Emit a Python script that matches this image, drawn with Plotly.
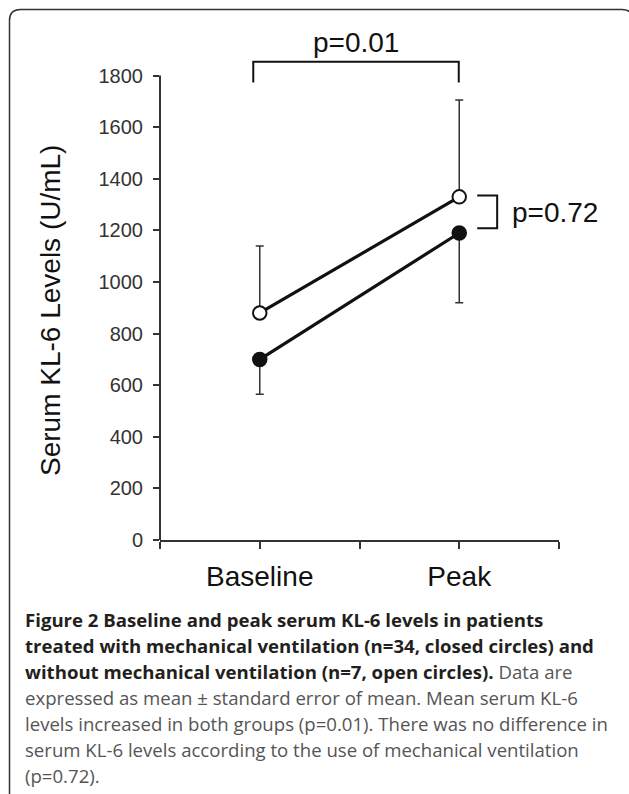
import plotly.graph_objects as go

# ---------------- data ----------------
categories = ["Baseline", "Peak"]
mv_mean = [700, 1190]          # with mechanical ventilation (closed circles)
mv_sem_minus = [135, 270]
nomv_mean = [880, 1330]        # without mechanical ventilation (open circles)
nomv_sem_plus = [260, 375]
y_ticks = [0, 200, 400, 600, 800, 1000, 1200, 1400, 1600, 1800]
p_time = "p=0.01"
p_group = "p=0.72"

caption_lines = [
    "<b>Figure 2 Baseline and peak serum KL-6 levels in patients</b>",
    "<b>treated with mechanical ventilation (n=34, closed circles) and</b>",
    "<b>without mechanical ventilation (n=7, open circles).</b> <span style='color:#555555'>Data are</span>",
    "<span style='color:#555555'>expressed as mean ± standard error of mean. Mean serum KL-6</span>",
    "<span style='color:#555555'>levels increased in both groups (p=0.01). There was no difference in</span>",
    "<span style='color:#555555'>serum KL-6 levels according to the use of mechanical ventilation</span>",
    "<span style='color:#555555'>(p=0.72).</span>",
]

# ---------------- layout geometry ----------------
W, H = 629, 794
L, R, T, B = 160, 70, 24, 254
PW, PH = W - L - R, H - T - B


def px(xp):
    return (xp - L) / PW


def py(yp):
    return (H - B - yp) / PH


x_pos = [1 + 2 * i for i in range(len(categories))]
tickvals = list(range(0, 2 * len(categories) + 1))
ticktext = ["" for _ in tickvals]
for i, c in enumerate(categories):
    ticktext[x_pos[i]] = c

CHART_FONT = "Liberation Sans, Arial, sans-serif"

fig = go.Figure()

fig.add_trace(go.Scatter(
    x=x_pos, y=mv_mean, mode="lines+markers",
    line=dict(color="#111111", width=3.2),
    marker=dict(symbol="circle", size=14, color="#111111",
                line=dict(color="#111111", width=1.5)),
    error_y=dict(type="data", symmetric=False, array=[0] * len(mv_mean),
                 arrayminus=mv_sem_minus, color="#333333", thickness=1.5, width=4),
    showlegend=False, hoverinfo="skip",
))
fig.add_trace(go.Scatter(
    x=x_pos, y=nomv_mean, mode="lines+markers",
    line=dict(color="#111111", width=3.2),
    marker=dict(symbol="circle", size=13.5, color="white",
                line=dict(color="#111111", width=2)),
    error_y=dict(type="data", symmetric=False, array=nomv_sem_plus,
                 arrayminus=[0] * len(nomv_mean), color="#333333", thickness=1.5, width=4),
    showlegend=False, hoverinfo="skip",
))

shapes = []
# y axis line (only up to 1800)
shapes.append(dict(type="line", xref="paper", yref="y", x0=0, x1=0,
                   y0=y_ticks[0], y1=y_ticks[-1], line=dict(color="#333333", width=2)))
# bracket for p=0.01 (between time points)
bx0, bx1 = x_pos[0] - 0.065, x_pos[1] - 0.005
by_top, by_leg = 1854, 1773
shapes.append(dict(type="path", xref="x", yref="y",
                   path=f"M {bx0},{by_leg} L {bx0},{by_top} L {bx1},{by_top} L {bx1},{by_leg}",
                   line=dict(color="#111111", width=2)))
# bracket for p=0.72 (between groups at peak)
gx0, gx1 = x_pos[1] + 0.18, x_pos[1] + 0.38
shapes.append(dict(type="path", xref="x", yref="y",
                   path=f"M {gx0},{nomv_mean[1] + 5} L {gx1},{nomv_mean[1] + 5} "
                        f"L {gx1},{mv_mean[1] + 18} L {gx0},{mv_mean[1] + 18}",
                   line=dict(color="#111111", width=2)))
# rounded frame around the figure
r = 11
x_l, x_r, y_t, y_b = 9.5, 633, 9.5, 810
frame_path = (f"M {px(x_l)},{py(y_b)} L {px(x_l)},{py(y_t + r)} "
              f"Q {px(x_l)},{py(y_t)} {px(x_l + r)},{py(y_t)} "
              f"L {px(x_r - r)},{py(y_t)} Q {px(x_r)},{py(y_t)} {px(x_r)},{py(y_t + r)} "
              f"L {px(x_r)},{py(y_b)}")
shapes.append(dict(type="path", xref="paper", yref="paper", path=frame_path,
                   line=dict(color="#333333", width=1.5)))

annotations = []
annotations.append(dict(x=(bx0 + bx1) / 2, y=1928, xref="x", yref="y", text=p_time,
                        showarrow=False, font=dict(family=CHART_FONT, size=28, color="#111111"),
                        xanchor="center", yanchor="middle"))
annotations.append(dict(x=gx1 + 0.13, y=1270, xref="x", yref="y", text=p_group,
                        showarrow=False, font=dict(family=CHART_FONT, size=28, color="#111111"),
                        xanchor="left", yanchor="middle"))
annotations.append(dict(x=px(50), y=py(311), xref="paper", yref="paper",
                        text="Serum KL-6 Levels (U/mL)", textangle=-90, showarrow=False,
                        font=dict(family=CHART_FONT, size=28, color="#111111"),
                        xanchor="center", yanchor="middle"))
for i, line in enumerate(caption_lines):
    annotations.append(dict(x=px(23), y=py(619 + 26 * i), xref="paper", yref="paper",
                            text=line, showarrow=False, align="left",
                            font=dict(family="Open Sans, sans-serif", size=18.6, color="#231f20"),
                            xanchor="left", yanchor="middle"))

fig.update_layout(
    width=W, height=H,
    margin=dict(l=L, r=R, t=T, b=B, pad=0),
    paper_bgcolor="white", plot_bgcolor="white",
    xaxis=dict(range=[0, tickvals[-1]], tickvals=tickvals, ticktext=ticktext,
               showline=True, linecolor="#333333", linewidth=2,
               ticks="outside", ticklen=7, tickwidth=2, tickcolor="#333333",
               showgrid=False, zeroline=False, ticklabelstandoff=3,
               tickfont=dict(family=CHART_FONT, size=28, color="#111111"),
               fixedrange=True),
    yaxis=dict(range=[0, 2000], tickvals=y_ticks,
               showline=False, ticks="outside", ticklen=6, tickwidth=2, tickcolor="#333333",
               showgrid=False, zeroline=False, ticklabelstandoff=6,
               tickfont=dict(family=CHART_FONT, size=20, color="#333333"),
               fixedrange=True),
    shapes=shapes,
    annotations=annotations,
)

fig.write_html(
    "out.html",
    config={"displayModeBar": False, "staticPlot": True},
    post_script="document.body.style.margin='0';document.body.style.overflow='hidden';",
)
